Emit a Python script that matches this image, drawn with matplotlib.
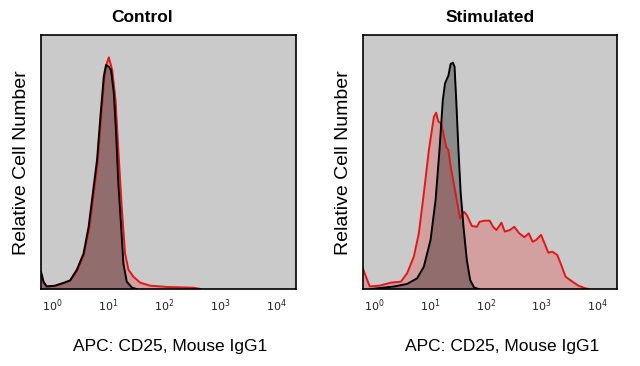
import matplotlib
matplotlib.use("Agg")
import matplotlib.pyplot as plt
import numpy as np

# ---- data (log10 fluorescence, relative height) ----
ctrl_black_logx = [-0.2, -0.155, -0.1, 0.05, 0.2, 0.32, 0.44, 0.56, 0.65, 0.74, 0.80, 0.86, 0.92, 0.96,
                   1.01, 1.05, 1.10, 1.14, 1.18, 1.23, 1.27, 1.33, 1.42, 1.50]
ctrl_black_y = [0.068, 0.029, 0.010, 0.013, 0.024, 0.034, 0.076, 0.14, 0.245, 0.403, 0.508, 0.678, 0.836, 0.882,
                0.875, 0.862, 0.77, 0.612, 0.416, 0.245, 0.101, 0.029, 0.006, 0.0]

ctrl_red_logx = [-0.2, -0.155, -0.1, 0.05, 0.2, 0.32, 0.44, 0.56, 0.66, 0.75, 0.81, 0.87, 0.93, 0.97,
                 1.01, 1.07, 1.13, 1.18, 1.24, 1.30, 1.36, 1.45, 1.57, 1.75, 2.05, 2.52, 2.65]
ctrl_red_y = [0.06, 0.025, 0.010, 0.012, 0.022, 0.032, 0.07, 0.13, 0.235, 0.39, 0.50, 0.67, 0.83, 0.885,
              0.912, 0.862, 0.744, 0.547, 0.324, 0.14, 0.076, 0.048, 0.025, 0.013, 0.008, 0.005, 0.0]

stim_black_logx = [-0.05, 0.36, 0.59, 0.77, 0.89, 1.01, 1.10, 1.17, 1.23, 1.27, 1.33, 1.37, 1.41, 1.44,
                   1.47, 1.51, 1.55, 1.60, 1.66, 1.72, 1.79, 1.87]
stim_black_y = [0.0, 0.01, 0.02, 0.042, 0.088, 0.193, 0.35, 0.547, 0.744, 0.81, 0.84, 0.886, 0.891, 0.875,
                0.744, 0.547, 0.377, 0.245, 0.114, 0.035, 0.006, 0.0]

stim_red_logx = [-0.2, -0.17, -0.08, 0.095, 0.30, 0.48, 0.59, 0.71, 0.80, 0.89, 0.98, 1.07, 1.11, 1.15,
                 1.20, 1.24, 1.29, 1.33, 1.37, 1.42, 1.48, 1.54, 1.61, 1.66, 1.75, 1.84, 1.89, 1.98,
                 2.07, 2.13, 2.19, 2.28, 2.34, 2.43, 2.51, 2.60, 2.69, 2.77, 2.84, 2.90, 2.99, 3.04,
                 3.12, 3.19, 3.28, 3.34, 3.43, 3.55, 3.66, 3.78, 3.85]
stim_red_y = [0.08, 0.062, 0.01, 0.013, 0.025, 0.029, 0.062, 0.127, 0.219, 0.377, 0.547, 0.678, 0.694, 0.659,
              0.652, 0.613, 0.56, 0.547, 0.482, 0.423, 0.35, 0.278, 0.304, 0.291, 0.248, 0.245, 0.265, 0.269,
              0.269, 0.245, 0.232, 0.261, 0.226, 0.232, 0.245, 0.219, 0.204, 0.219, 0.186, 0.193, 0.213, 0.186,
              0.143, 0.147, 0.134, 0.101, 0.048, 0.029, 0.013, 0.003, 0.0]

titles = ["Control", "Stimulated"]
xlabel = "APC: CD25, Mouse IgG1"
ylabel = "Relative Cell Number"
tick_exps = [0, 1, 2, 3, 4]

fig = plt.figure(figsize=(6.4, 3.66), dpi=100)
fig.patch.set_facecolor("white")

panels = [
    (ctrl_black_logx, ctrl_black_y, ctrl_red_logx, ctrl_red_y),
    (stim_black_logx, stim_black_y, stim_red_logx, stim_red_y),
]
ax_pos = [[41/640, 1-289/366, 255/640, 254/366], [363/640, 1-289/366, 254/640, 254/366]]
title_x = [142/640, 490/640]
ylab_x = [22/640, 343/640]
xlab_x = [170/640, 502/640]

for i, (bx, by, rx, ry) in enumerate(panels):
    ax = fig.add_axes(ax_pos[i])
    ax.set_facecolor("#cacaca")
    bxv = 10 ** np.array(bx)
    rxv = 10 ** np.array(rx)
    ax.fill_between(rxv, ry, 0, color="#f50000", alpha=0.21, linewidth=0)
    ax.fill_between(bxv, by, 0, color="black", alpha=0.31, linewidth=0)
    ax.plot(rxv, ry, color="#e01818", lw=1.4)
    ax.plot(bxv, by, color="black", lw=1.4)
    ax.set_xscale("log")
    ax.set_xlim(10 ** -0.2, 10 ** 4.35)
    ax.set_ylim(0, 1)
    ax.set_yticks([])
    ax.set_xticks([10.0 ** e for e in tick_exps])
    ax.set_xticklabels([r"$10^{%d}$" % e for e in tick_exps], fontsize=8, color="#222222")
    ax.minorticks_off()
    ax.tick_params(axis="x", length=0, pad=6)
    for s in ax.spines.values():
        s.set_linewidth(1.2)
        s.set_color("black")
    fig.text(title_x[i], 1-17/366, titles[i], ha="center", va="center",
             fontsize=12.5, fontweight="bold", family="Liberation Sans")
    fig.text(ylab_x[i], 1-163/366, ylabel, ha="center", va="center", rotation=90,
             fontsize=14, family="Liberation Sans")
    fig.text(xlab_x[i], 1-347/366, xlabel, ha="center", va="center",
             fontsize=12.5, family="Liberation Sans")

fig.savefig("out.png", dpi=100)
